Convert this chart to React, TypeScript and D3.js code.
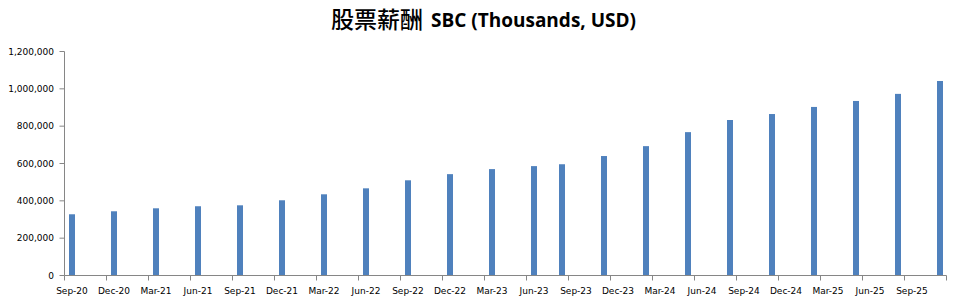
import React from "react";
import * as d3 from "d3";

const periods = [
  "2020-09", "2020-12", "2021-03", "2021-06", "2021-09", "2021-12",
  "2022-03", "2022-06", "2022-09", "2022-12", "2023-03", "2023-06",
  "2023-08", "2023-11", "2024-02", "2024-05", "2024-08", "2024-11",
  "2025-02", "2025-05", "2025-08", "2025-11",
];
const sbcValues = [
  328000, 344000, 360000, 371000, 376000, 403000,
  435000, 467000, 510000, 543000, 570000, 586000,
  596000, 640000, 693000, 768000, 833000, 865000,
  903000, 935000, 973000, 1042000,
];
const tickLabels = [
  "Sep-20", "Dec-20", "Mar-21", "Jun-21", "Sep-21", "Dec-21", "Mar-22",
  "Jun-22", "Sep-22", "Dec-22", "Mar-23", "Jun-23", "Sep-23", "Dec-23",
  "Mar-24", "Jun-24", "Sep-24", "Dec-24", "Mar-25", "Jun-25", "Sep-25",
];
const yTicks = [0, 200000, 400000, 600000, 800000, 1000000, 1200000];
const titleCJK = "股票薪酬";
const titleLatin = "SBC (Thousands, USD)";

const W = 959;
const H = 307;
const X0 = 64.5;
const X1 = 946.5;
const Y0 = 275.5;
const Y1 = 51.5;

export default function App() {
  const fmtKey = d3.timeFormat("%Y-%m");
  const parse = d3.timeParse("%Y-%m");
  const months = d3.timeMonth
    .range(parse("2020-09")!, parse("2025-12")!)
    .map((d) => fmtKey(d));
  const x = d3.scaleBand<string>().domain(months).range([X0, X1]).padding(0);
  const y = d3.scaleLinear().domain([0, 1200000]).range([Y0, Y1]);
  const fmt = d3.format(",");
  const bw = 6;
  const axisColor = "#868686";
  const tickMonths = months.filter((_, i) => i % 3 === 0);

  return (
    <svg
      width={W}
      height={H}
      style={{ position: "absolute", left: 0, top: 0, background: "#fff" }}
    >
      <text
        x={331}
        y={28}
        textAnchor="start"
        fontSize={23}
        fontWeight={500}
        fontFamily="'Noto Sans CJK TC', sans-serif"
        fill="#000"
      >
        {titleCJK}
      </text>
      <text
        x={431}
        y={27}
        textAnchor="start"
        fontSize={19}
        fontWeight="bold"
        fontFamily="'Open Sans', sans-serif"
        fill="#000"
      >
        {titleLatin}
      </text>
      {sbcValues.map((v, i) => {
        const cx = x(periods[i])! + x.bandwidth() / 2 + 0.5;
        return (
          <rect
            key={periods[i]}
            x={cx - bw / 2}
            y={y(v)}
            width={bw}
            height={Y0 - y(v)}
            fill="#4F81BD"
          />
        );
      })}
      <line x1={X0} x2={X0} y1={Y1} y2={Y0} stroke={axisColor} />
      {yTicks.map((t) => (
        <g key={t}>
          <line x1={X0 - 5} x2={X0} y1={y(t)} y2={y(t)} stroke={axisColor} />
          <text
            x={54}
            y={y(t) + 3.2}
            textAnchor="end"
            fontSize={9}
            fontFamily="'DejaVu Sans', sans-serif"
            fill="#000"
          >
            {fmt(t)}
          </text>
        </g>
      ))}
      <line x1={X0} x2={X1} y1={Y0} y2={Y0} stroke={axisColor} />
      {tickMonths.map((m) => (
        <line
          key={m}
          x1={x(m)!}
          x2={x(m)!}
          y1={Y0}
          y2={Y0 + 5}
          stroke={axisColor}
        />
      ))}
      <line x1={X1} x2={X1} y1={Y0} y2={Y0 + 5} stroke={axisColor} />
      {tickLabels.map((lab, i) => (
        <text
          key={lab}
          x={x(tickMonths[i])! + x.bandwidth() / 2 + 0.5}
          y={294}
          textAnchor="middle"
          fontSize={9}
          fontFamily="'DejaVu Sans', sans-serif"
          fill="#000"
        >
          {lab}
        </text>
      ))}
    </svg>
  );
}
